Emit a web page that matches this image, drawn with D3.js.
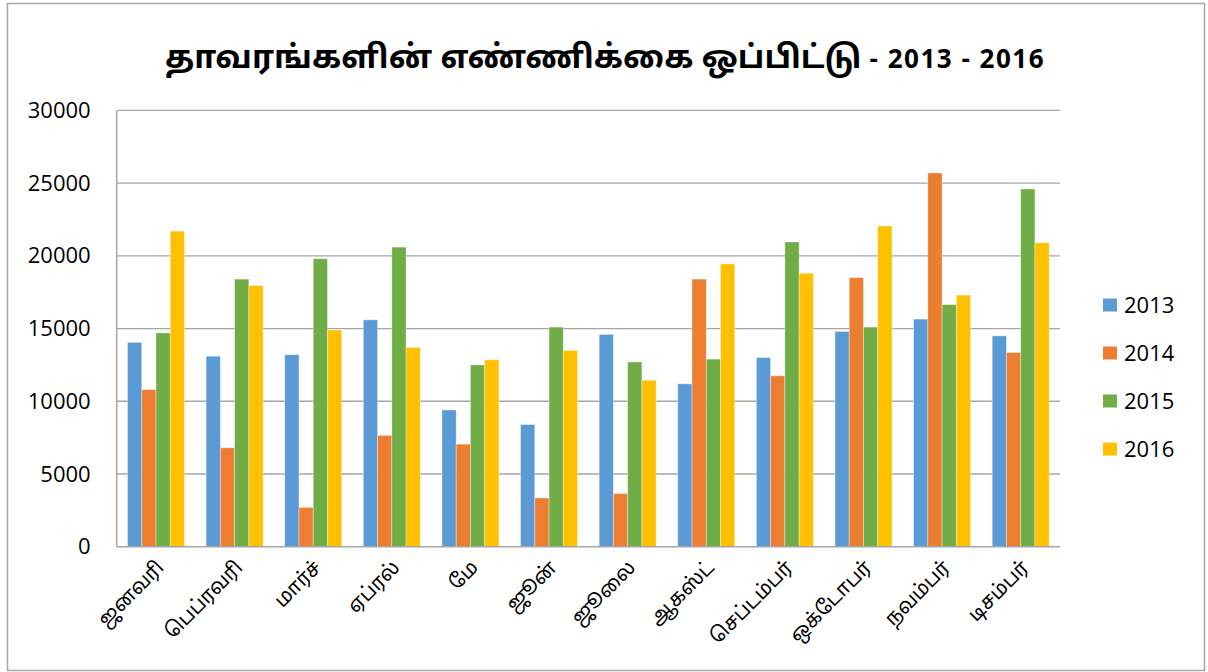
<!DOCTYPE html>
<html>
<head>
<meta charset="utf-8">
<script src="https://cdn.jsdelivr.net/npm/d3@7"></script>
<style>
  html, body { margin: 0; padding: 0; background: #fff; }
  svg { display: block; }
</style>
</head>
<body>
<svg id="chart" width="1208" height="672"></svg>
<script>
const categories = ["ஜனவரி", "பெப்ரவரி", "மார்ச்", "ஏப்ரல்", "மே", "ஜூன்", "ஜூலை", "ஆகஸ்ட்", "செப்டம்பர்", "ஒக்டோபர்", "நவம்பர்", "டிசம்பர்"];
const seriesNames = ["2013", "2014", "2015", "2016"];
const values2013 = [14050, 13100, 13200, 15600, 9400, 8400, 14600, 11200, 13000, 14800, 15650, 14500];
const values2014 = [10800, 6800, 2700, 7650, 7050, 3350, 3650, 18400, 11750, 18500, 25700, 13350];
const values2015 = [14700, 18400, 19800, 20600, 12500, 15100, 12700, 12900, 20950, 15100, 16650, 24600];
const values2016 = [21700, 17950, 14900, 13700, 12850, 13500, 11450, 19450, 18800, 22050, 17300, 20900];
const yTicks = [0, 5000, 10000, 15000, 20000, 25000, 30000];
const titleMain = "தாவரங்களின் எண்ணிக்கை ஒப்பிட்டு";
const titleSub = " - 2013 - 2016";
const colors = ["#5b9bd5", "#ed7d31", "#70ad47", "#ffc000"];

const series = [values2013, values2014, values2015, values2016];
const svg = d3.select("#chart");
const tamilFont = "'Noto Sans Tamil', 'Latha', 'Noto Sans', 'Lohit Tamil', sans-serif";
const numFont = "'Open Sans', 'Liberation Sans', sans-serif";

// outer border
svg.append("rect").attr("x", 7.5).attr("y", 3.5).attr("width", 1197).attr("height", 667)
  .attr("fill", "#fff").attr("stroke", "#a6a6a6").attr("stroke-width", 1.5);

const plot = { left: 116.7, right: 1060, top: 110.4, bottom: 546.7 };

const x0 = d3.scaleBand().domain(categories).range([plot.left, plot.right])
  .paddingInner(0.275).paddingOuter(0.1375);
const x1 = d3.scaleBand().domain(seriesNames).range([0, x0.bandwidth()]);
const y = d3.scaleLinear().domain([0, 30000]).range([plot.bottom, plot.top]);

// gridlines
svg.append("g").selectAll("line").data(yTicks.filter(d => d > 0)).join("line")
  .attr("x1", plot.left).attr("x2", plot.right)
  .attr("y1", d => y(d)).attr("y2", d => y(d))
  .attr("stroke", "#a6a6a6").attr("stroke-width", 1.3);

// y axis labels
const yAxis = d3.axisLeft(y).tickValues(yTicks).tickSize(0).tickPadding(0).tickFormat(d3.format("d"));
const gy = svg.append("g").attr("transform", `translate(${plot.left - 26},0)`).call(yAxis);
gy.select(".domain").remove();
gy.selectAll("text").attr("font-family", numFont).attr("font-size", 22).attr("fill", "#000");

// bars
const groups = svg.append("g").selectAll("g").data(categories).join("g")
  .attr("transform", d => `translate(${x0(d)},0)`);
groups.selectAll("rect").data((c, i) => seriesNames.map((s, j) => ({ s, v: series[j][i], j })))
  .join("rect")
  .attr("x", d => x1(d.s)).attr("width", x1.bandwidth())
  .attr("y", d => y(d.v)).attr("height", d => y(0) - y(d.v))
  .attr("fill", d => colors[d.j])
  .attr("stroke", "#fff").attr("stroke-opacity", 0.45).attr("stroke-width", 0.8);

// axes lines
svg.append("line").attr("x1", plot.left).attr("x2", plot.right)
  .attr("y1", plot.bottom).attr("y2", plot.bottom).attr("stroke", "#a6a6a6").attr("stroke-width", 1.5);
svg.append("line").attr("x1", plot.left).attr("x2", plot.left)
  .attr("y1", plot.top).attr("y2", plot.bottom).attr("stroke", "#a6a6a6").attr("stroke-width", 1.5);

// x labels
const xAxis = d3.axisBottom(x0).tickSize(0).tickPadding(0);
const gx = svg.append("g").attr("transform", `translate(0,${plot.bottom})`).call(xAxis);
gx.select(".domain").remove();
gx.selectAll("text")
  .attr("font-family", tamilFont).attr("font-size", 20).attr("fill", "#000")
  .attr("text-anchor", "end").attr("dy", null).attr("y", 0)
  .attr("transform", "translate(9,22) rotate(-45)");

// title
const title = svg.append("text").attr("x", 605).attr("y", 68).attr("text-anchor", "middle")
  .attr("font-weight", "bold").attr("fill", "#000");
title.append("tspan").attr("font-family", tamilFont).attr("font-size", 32).text(titleMain);
title.append("tspan").attr("font-family", numFont).attr("font-size", 26).attr("letter-spacing", 1.5).text(titleSub);

// legend
const legend = svg.append("g").selectAll("g").data(seriesNames).join("g")
  .attr("transform", (d, i) => `translate(1103,${305 + i * 48})`);
legend.append("rect").attr("x", 0).attr("y", -6.5).attr("width", 14).attr("height", 13)
  .attr("fill", (d, i) => colors[i]);
legend.append("text").attr("x", 21).attr("y", 0).attr("dy", "0.36em")
  .attr("font-family", numFont).attr("font-size", 22).attr("fill", "#000").text(d => d);
</script>
</body>
</html>
